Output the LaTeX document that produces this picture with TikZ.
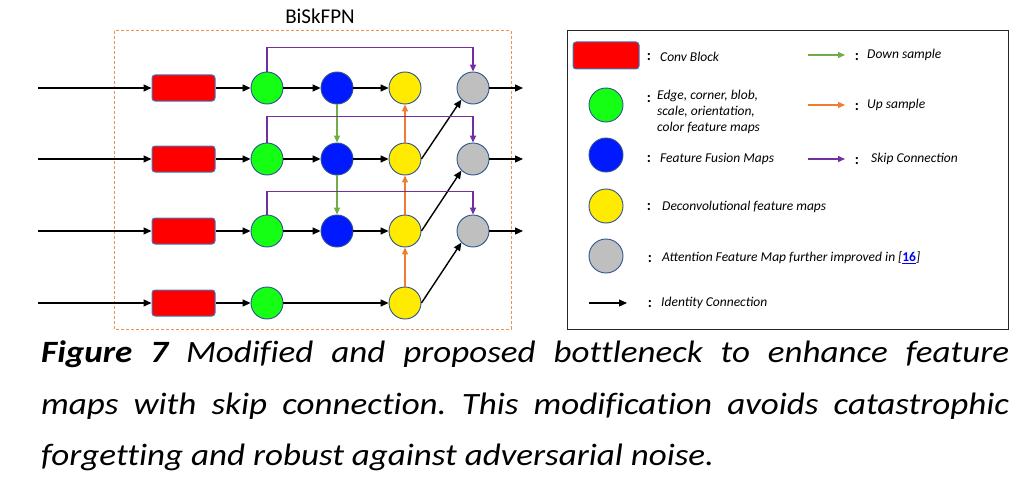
\documentclass[tikz,border=0pt]{standalone}
\usepackage{fontspec}
\setmainfont{Carlito}
\setsansfont{Carlito}
\newfontfamily\capfont[FakeStretch=1.13, Ligatures=NoCommon]{Carlito}
\usetikzlibrary{arrows.meta}
\definecolor{cred}{HTML}{FF0000}
\definecolor{cgreen}{HTML}{14FF14}
\definecolor{cblue}{HTML}{0019FF}
\definecolor{cyellow}{HTML}{FFEB00}
\definecolor{cgray}{HTML}{BFBFBF}
\definecolor{bord}{HTML}{2F528F}
\definecolor{boxbord}{HTML}{3A7CC0}
\definecolor{aorange}{HTML}{ED7D31}
\definecolor{agreen}{HTML}{70AD47}
\definecolor{apurple}{HTML}{7030A0}
\tikzset{
  convbox/.style={draw=boxbord, fill=cred, line width=1pt, rounded corners=3pt, minimum width=63pt, minimum height=26pt, inner sep=0pt},
  fmap/.style={circle, draw=bord, line width=0.9pt, minimum size=32pt, inner sep=0pt},
  gmap/.style={fmap, fill=cgreen},
  bmap/.style={fmap, fill=cblue},
  ymap/.style={fmap, fill=cyellow},
  amap/.style={fmap, fill=cgray},
  idc/.style={line width=1.4pt, -{Triangle[length=8pt,width=7pt]}},
  dsc/.style={draw=agreen, line width=1.3pt, -{Triangle[length=7pt,width=6pt]}},
  usc/.style={draw=aorange, line width=1.3pt, -{Triangle[length=7pt,width=6pt]}},
  skc/.style={draw=apurple, line width=1.4pt, -{Triangle[length=7pt,width=6pt]}},
  legtxt/.style={anchor=west, font=\itshape\fontsize{13.5}{16}\selectfont, inner sep=0pt},
  colon/.style={anchor=center, font=\bfseries\fontsize{15}{15}\selectfont, inner sep=0pt},
  captxt/.style={anchor=base west, inner sep=0pt, font=\capfont\itshape\fontsize{31}{31}\selectfont},
}
\begin{document}
\frenchspacing
\begin{tikzpicture}[x=1pt,y=-1pt]
\useasboundingbox (0,0) rectangle (1031,495);
% dashed frame
\draw[aorange!85, dash pattern=on 3pt off 2pt, line width=1pt] (114,31) rectangle (511,329);
\node[font=\fontsize{21}{21}\selectfont, inner sep=0pt] (title) at (320,16) {BiSkFPN};
% nodes
\foreach \i/\yy in {1/88,2/159,3/231,4/303}{
  \coordinate (in\i) at (38,\yy);
  \node[convbox] (r\i) at (183.5,\yy) {};
  \node[gmap] (g\i) at (267,\yy) {};
  \node[ymap] (y\i) at (405,\yy) {};
}
\foreach \i/\yy in {1/88,2/159,3/231}{
  \node[bmap] (b\i) at (337,\yy) {};
  \node[amap] (a\i) at (473,\yy) {};
  \coordinate (out\i) at (523,\yy);
}
% identity connections
\foreach \i in {1,2,3,4}{
  \draw[idc] (in\i) -- (r\i.west);
  \draw[idc] (r\i.east) -- (g\i.west);
}
\foreach \i in {1,2,3}{
  \draw[idc] (g\i.east) -- (b\i.west);
  \draw[idc] (b\i.east) -- (y\i.west);
  \draw[idc] (a\i.east) -- (out\i);
}
\draw[idc] (g4.east) -- (y4.west);
\draw[idc] (y2.east) -- (a1.south west);
\draw[idc] (y3.east) -- (a2.south west);
\draw[idc] (y4.east) -- (a3.south west);
% down samples
\draw[dsc] (b1.south) -- (b2.north);
\draw[dsc] (b2.south) -- (b3.north);
% up samples
\draw[usc] (y2.north) -- (y1.south);
\draw[usc] (y3.north) -- (y2.south);
\draw[usc] (y4.north) -- (y3.south);
% skip connections
\draw[skc] (g1.north) -- ++(0,-24) -| (a1.north);
\draw[skc] (g2.north) -- ++(0,-26) -| (a2.north);
\draw[skc] (g3.north) -- ++(0,-23) -| (a3.north);
% legend
\draw[black!85, line width=1pt] (567,31) rectangle (1008,329);
\node[convbox, minimum width=66pt, minimum height=27pt] (lr) at (606,55.5) {};
\node[gmap, minimum size=34pt] (lg) at (606,105) {};
\node[bmap, minimum size=34pt] (lb) at (606,155) {};
\node[ymap, minimum size=34pt] (ly) at (606,206) {};
\node[amap, minimum size=34pt] (la) at (606,256) {};
\coordinate (lis) at (589,303);
\coordinate (lie) at (627,303);
\draw[idc, line width=1.2pt] (lis) -- (lie);
\node[colon] (c1) at (649,57) {:};
\node[colon] (c2) at (649,99) {:};
\node[colon] (c3) at (649,159) {:};
\node[colon] (c4) at (649,207) {:};
\node[colon] (c5) at (650,259) {:};
\node[colon] (c6) at (650,304) {:};
\node[legtxt] (t1) at (660,57) {Conv Block};
\node[legtxt, align=left] (t2) at (657,112) {Edge, corner, blob,\\scale, orientation,\\\hspace*{0pt}color feature maps};
\node[legtxt] (t3) at (660,159) {Feature Fusion Maps};
\node[legtxt] (t4) at (662,207) {Deconvolutional feature maps};
\node[legtxt] (t5) at (662,258) {Attention Feature Map further improved in [\textcolor{blue}{\underline{\upshape\bfseries 16}}]};
\node[legtxt] (t6) at (661,303) {Identity Connection};
\coordinate (lds) at (808,55);
\coordinate (lde) at (845,55);
\coordinate (lus) at (808,105);
\coordinate (lue) at (845,105);
\coordinate (lss) at (808,159);
\coordinate (lse) at (845,159);
\draw[dsc] (lds) -- (lde);
\draw[usc] (lus) -- (lue);
\draw[skc] (lss) -- (lse);
\node[colon] (c7) at (857,57) {:};
\node[colon] (c8) at (857,107) {:};
\node[colon] (c9) at (857,161) {:};
\node[legtxt] (t7) at (867,55) {Down sample};
\node[legtxt] (t8) at (867,105) {Up sample};
\node[legtxt] (t9) at (871,159) {Skip Connection};
% caption
\node[captxt] (cap1) at (41,362)
  {\makebox[968pt][s]{\textbf{Figure 7} Modified and proposed bottleneck to enhance feature}};
\node[captxt] (cap2) at (41,414)
  {\makebox[968pt][s]{maps with skip connection. This modification avoids catastrophic}};
\node[captxt] (cap3) at (41,465)
  {forgetting and robust against adversarial noise.};
\end{tikzpicture}
\end{document}
